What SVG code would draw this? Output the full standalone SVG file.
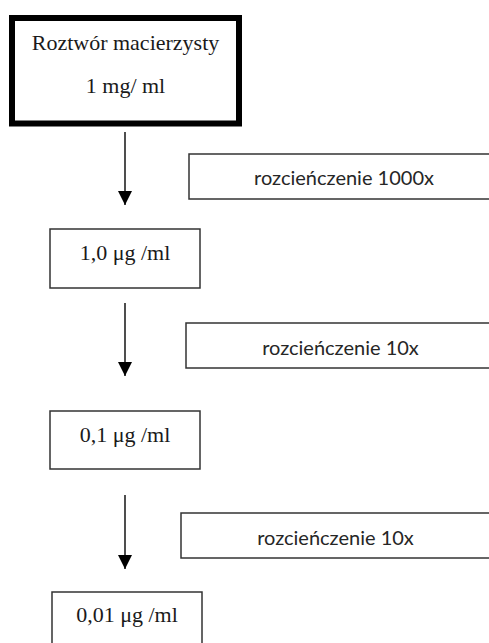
<svg xmlns="http://www.w3.org/2000/svg" width="489" height="643" viewBox="0 0 489 643">
  <style>
    .box { fill: #ffffff; stroke: #333333; stroke-width: 1.5; }
    .main { fill: #ffffff; stroke: #000000; stroke-width: 6; }
    .serif { font-family: "Liberation Serif", "Times New Roman", serif; font-size: 22px; fill: #1a1a1a; text-anchor: middle; }
    .sans { font-family: Lato, "Noto Sans", sans-serif; font-size: 20px; fill: #262626; text-anchor: middle; }
    .conn { stroke: #222222; stroke-width: 1.6; fill: none; }
  </style>
  <defs>
    <marker id="arrow" markerUnits="userSpaceOnUse" markerWidth="14" markerHeight="14" viewBox="0 0 14 14" refX="14" refY="7" orient="auto">
      <path d="M0,0 L14,7 L0,14 Z" fill="#000000"/>
    </marker>
  </defs>
  <rect width="489" height="643" fill="#ffffff"/>

  <g id="stock">
    <rect class="main" x="12" y="18" width="227" height="105.5"/>
    <text class="serif" x="125.5" y="50">Roztwór macierzysty</text>
    <text class="serif" x="125.5" y="93">1 mg/ ml</text>
  </g>

  <g id="dil1">
    <rect class="box" x="189" y="154" width="320" height="45"/>
    <text class="sans" x="344" y="185">rozcieńczenie 1000x</text>
  </g>

  <g id="conc1">
    <rect class="box" x="50" y="229" width="150" height="59"/>
    <text class="serif" x="125" y="260">1,0 μg /ml</text>
  </g>

  <g id="dil2">
    <rect class="box" x="186" y="323" width="320" height="45"/>
    <text class="sans" x="340.5" y="355">rozcieńczenie 10x</text>
  </g>

  <g id="conc2">
    <rect class="box" x="50" y="411" width="150" height="58"/>
    <text class="serif" x="125" y="442">0,1 μg /ml</text>
  </g>

  <g id="dil3">
    <rect class="box" x="181" y="513" width="320" height="45"/>
    <text class="sans" x="335.5" y="545">rozcieńczenie 10x</text>
  </g>

  <g id="conc3">
    <rect class="box" x="52" y="592" width="150" height="70"/>
    <text class="serif" x="127" y="622">0,01 μg /ml</text>
  </g>

  <g id="connectors">
    <line class="conn" x1="125" y1="132" x2="125" y2="205" marker-end="url(#arrow)"/>
    <line class="conn" x1="125" y1="303" x2="125" y2="376" marker-end="url(#arrow)"/>
    <line class="conn" x1="125" y1="495" x2="125" y2="569" marker-end="url(#arrow)"/>
  </g>
</svg>
